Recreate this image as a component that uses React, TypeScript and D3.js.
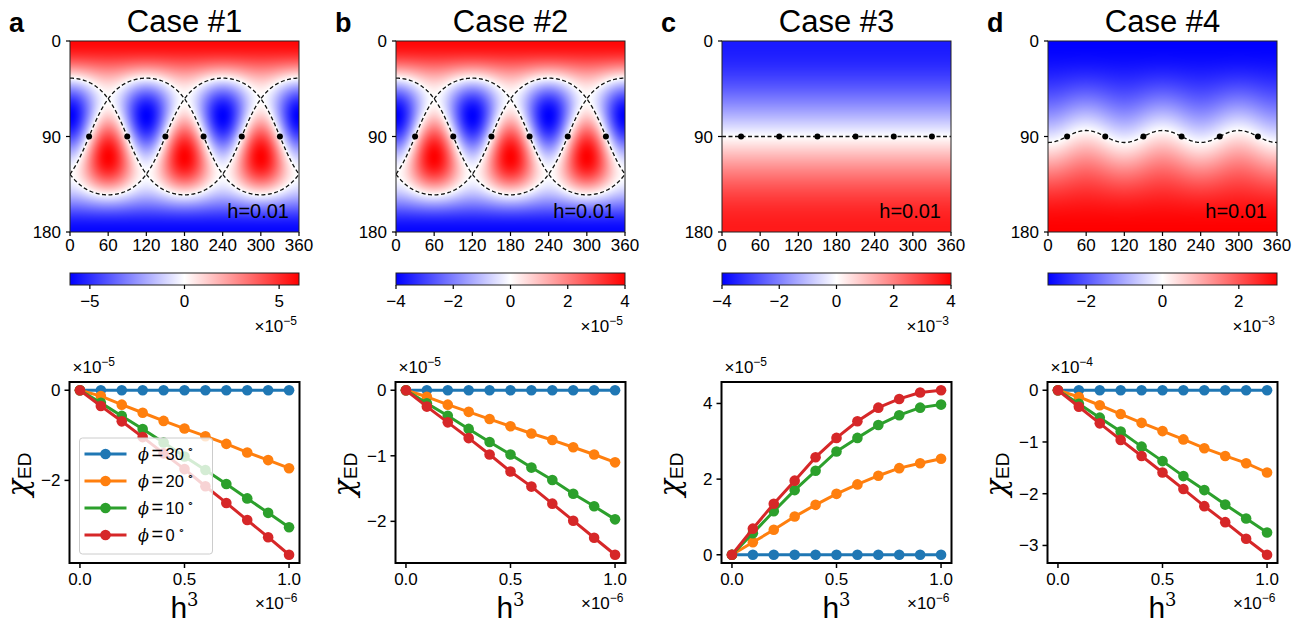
import React, { useMemo } from 'react';
import * as d3 from 'd3';

// ---------- data ----------
const CASE_TITLES = ['Case #1', 'Case #2', 'Case #3', 'Case #4'];
const PANEL_LETTERS = ['a', 'b', 'c', 'd'];
const PHI_TICKS = [0, 60, 120, 180, 240, 300, 360];
const THETA_TICKS = [0, 90, 180];
const CBAR_MAX = [6.05, 4, 4, 3];
const CBAR_TICKS = [[-5, 0, 5], [-4, -2, 0, 2, 4], [-4, -2, 0, 2, 4], [-2, 0, 2]];
const CBAR_EXP = ['−5', '−5', '−3', '−3'];
const FIELD_PEAK = [1, 1, 0.9, 1];
const FIELD_KIND = ['tripole', 'tripole', 'dipole', 'ripple'];
const TILT_DEG = 55;
const CIRCLE_PHI = [0, 120, 240];
const RIPPLE = 0.1;
const NODE_PHI = [30, 90, 150, 210, 270, 330];
const NODE_THETA = 90;
const H_LABEL = 'h=0.01';

const H3 = [0, 0.1, 0.2, 0.3, 0.4, 0.5, 0.6, 0.7, 0.8, 0.9, 1.0];
const H3_TICKS = [0, 0.5, 1.0];
const CHI_EXP = ['−5', '−5', '−5', '−4'];
const LEGEND_LABELS = ['30', '20', '10', '0'];
const SERIES_COLORS = ['#1f77b4', '#ff7f0e', '#2ca02c', '#d62728'];

const CHI_A_30 = [0, 0, 0, 0, 0, 0, 0, 0, 0, 0, 0];
const CHI_A_20 = [0, -0.13, -0.32, -0.5, -0.68, -0.85, -1.02, -1.19, -1.38, -1.55, -1.73];
const CHI_A_10 = [0, -0.28, -0.57, -0.86, -1.16, -1.47, -1.77, -2.08, -2.4, -2.72, -3.04];
const CHI_A_0 = [0, -0.35, -0.69, -1.04, -1.4, -1.75, -2.13, -2.5, -2.88, -3.26, -3.65];

const CHI_B_30 = [0, 0, 0, 0, 0, 0, 0, 0, 0, 0, 0];
const CHI_B_20 = [0, -0.1, -0.22, -0.33, -0.44, -0.55, -0.66, -0.76, -0.87, -0.98, -1.1];
const CHI_B_10 = [0, -0.2, -0.39, -0.59, -0.79, -0.98, -1.18, -1.37, -1.58, -1.77, -1.97];
const CHI_B_0 = [0, -0.25, -0.49, -0.73, -0.98, -1.24, -1.47, -1.73, -1.99, -2.25, -2.51];

const CHI_C_30 = [0, 0, 0, 0, 0, 0, 0, 0, 0, 0, 0];
const CHI_C_20 = [0, 0.33, 0.66, 1.01, 1.32, 1.61, 1.86, 2.09, 2.29, 2.42, 2.54];
const CHI_C_10 = [0, 0.57, 1.15, 1.71, 2.22, 2.73, 3.09, 3.43, 3.69, 3.89, 3.97];
const CHI_C_0 = [0, 0.69, 1.35, 1.96, 2.58, 3.09, 3.53, 3.89, 4.12, 4.29, 4.35];

const CHI_D_30 = [0, 0, 0, 0, 0, 0, 0, 0, 0, 0, 0];
const CHI_D_20 = [0, -0.13, -0.29, -0.46, -0.63, -0.79, -0.95, -1.12, -1.27, -1.41, -1.59];
const CHI_D_10 = [0, -0.26, -0.53, -0.8, -1.09, -1.37, -1.66, -1.93, -2.21, -2.48, -2.75];
const CHI_D_0 = [0, -0.32, -0.64, -0.96, -1.27, -1.59, -1.91, -2.24, -2.55, -2.87, -3.18];

const CHI_SERIES = [
  [CHI_A_30, CHI_A_20, CHI_A_10, CHI_A_0],
  [CHI_B_30, CHI_B_20, CHI_B_10, CHI_B_0],
  [CHI_C_30, CHI_C_20, CHI_C_10, CHI_C_0],
  [CHI_D_30, CHI_D_20, CHI_D_10, CHI_D_0],
];
const CHI_TICKS = [[0, -2], [0, -1, -2], [0, 2, 4], [0, -1, -2, -3]];

// ---------- layout ----------
const FIRST_LEFT = 70;
const PANEL_STEP = 326;
const HEAT_W = 229;
const HEAT_TOP = 41;
const HEAT_H = 191;
const CB_TOP = 273;
const CB_H = 12;
const AX_TOP = 382;
const AX_BOT = 563;
const AX_W = 230;
const SANS = '"Liberation Sans", Arial, Helvetica, sans-serif';
const SERIF = '"DejaVu Serif", "Liberation Serif", serif';
const TICK_FS = 17;

const rad = (d: number) => (d * Math.PI) / 180;

function fieldValue(kind: string, phi: number, theta: number): number {
  const p = rad(phi);
  const t = rad(theta);
  if (kind === 'tripole') {
    const b = rad(TILT_DEG);
    let f = 1;
    for (const pk of CIRCLE_PHI) {
      f *= Math.cos(b) * Math.cos(t) - Math.sin(b) * Math.sin(t) * Math.cos(p - rad(pk));
    }
    return f;
  }
  if (kind === 'dipole') return -Math.cos(t);
  return -Math.cos(t) - RIPPLE * Math.pow(Math.sin(t), 3) * Math.cos(3 * p);
}

function zeroCurves(kind: string): [number, number][][] {
  const phis = d3.range(0, 360.5, 1);
  if (kind === 'tripole') {
    const tb = Math.tan(rad(TILT_DEG));
    return CIRCLE_PHI.map((pk) =>
      phis.map((ph) => [ph, (Math.atan2(1, tb * Math.cos(rad(ph - pk))) * 180) / Math.PI] as [number, number])
    );
  }
  if (kind === 'dipole') return [[[0, 90], [360, 90]]];
  return [
    phis.map((ph) => {
      let lo = 60;
      let hi = 120;
      for (let i = 0; i < 40; i++) {
        const mid = (lo + hi) / 2;
        if (fieldValue(kind, ph, mid) < 0) lo = mid;
        else hi = mid;
      }
      return [ph, (lo + hi) / 2] as [number, number];
    }),
  ];
}

function bwr(v: number): [number, number, number] {
  const t = Math.max(0, Math.min(1, (v + 1) / 2));
  if (t < 0.5) {
    const c = Math.round(255 * 2 * t);
    return [c, c, 255];
  }
  const c = Math.round(255 * 2 * (1 - t));
  return [255, c, c];
}

function heatImage(i: number): string {
  const kind = FIELD_KIND[i];
  const w = HEAT_W;
  const h = HEAT_H;
  const vals: number[] = new Array(w * h);
  let maxAbs = 0;
  for (let y = 0; y < h; y++) {
    for (let x = 0; x < w; x++) {
      const v = fieldValue(kind, ((x + 0.5) / w) * 360, ((y + 0.5) / h) * 180);
      vals[y * w + x] = v;
      if (Math.abs(v) > maxAbs) maxAbs = Math.abs(v);
    }
  }
  const canvas = document.createElement('canvas');
  canvas.width = w;
  canvas.height = h;
  const ctx = canvas.getContext('2d')!;
  const img = ctx.createImageData(w, h);
  for (let k = 0; k < w * h; k++) {
    const [r, g, b] = bwr((vals[k] / maxAbs) * FIELD_PEAK[i]);
    img.data[4 * k] = r;
    img.data[4 * k + 1] = g;
    img.data[4 * k + 2] = b;
    img.data[4 * k + 3] = 255;
  }
  ctx.putImageData(img, 0, 0);
  return canvas.toDataURL();
}

function TopPanel({ i }: { i: number }) {
  const left = FIRST_LEFT + i * PANEL_STEP;
  const x = d3.scaleLinear().domain([0, 360]).range([left, left + HEAT_W]);
  const y = d3.scaleLinear().domain([0, 180]).range([HEAT_TOP, HEAT_TOP + HEAT_H]);
  const href = useMemo(() => heatImage(i), [i]);
  const curves = useMemo(() => zeroCurves(FIELD_KIND[i]), [i]);
  const line = d3
    .line<[number, number]>()
    .x((d) => x(d[0]))
    .y((d) => y(d[1]));
  const cb = d3.scaleLinear().domain([-CBAR_MAX[i], CBAR_MAX[i]]).range([left, left + HEAT_W]);
  const clipId = `clip-heat-${i}`;
  const gradId = `grad-cb-${i}`;
  return (
    <g>
      <text x={left - 61} y={32} fontFamily={SANS} fontWeight="bold" fontSize={27}>
        {PANEL_LETTERS[i]}
      </text>
      <text x={left + HEAT_W / 2} y={32} textAnchor="middle" fontFamily={SANS} fontSize={31}>
        {CASE_TITLES[i]}
      </text>
      <defs>
        <clipPath id={clipId}>
          <rect x={left} y={HEAT_TOP} width={HEAT_W} height={HEAT_H} />
        </clipPath>
        <linearGradient id={gradId} x1="0" x2="1" y1="0" y2="0">
          <stop offset="0" stopColor="#0000ff" />
          <stop offset="0.5" stopColor="#ffffff" />
          <stop offset="1" stopColor="#ff0000" />
        </linearGradient>
      </defs>
      <image href={href} x={left} y={HEAT_TOP} width={HEAT_W} height={HEAT_H} preserveAspectRatio="none" />
      <g clipPath={`url(#${clipId})`}>
        {curves.map((c, k) => (
          <path key={k} d={line(c) || ''} fill="none" stroke="#111" strokeWidth={1.3} strokeDasharray="4,2.5" />
        ))}
      </g>
      {NODE_PHI.map((p) => (
        <circle key={p} cx={x(p)} cy={y(NODE_THETA)} r={3} fill="#000" />
      ))}
      <text x={left + HEAT_W - 10} y={HEAT_TOP + HEAT_H - 14} textAnchor="end" fontFamily={SANS} fontSize={20}>
        {H_LABEL}
      </text>
      <rect x={left} y={HEAT_TOP} width={HEAT_W} height={HEAT_H} fill="none" stroke="#222" strokeWidth={1} />
      {THETA_TICKS.map((t) => (
        <g key={t}>
          <line x1={left - 4} x2={left} y1={y(t)} y2={y(t)} stroke="#000" strokeWidth={1.2} />
          <text x={left - 9} y={y(t) + 6} textAnchor="end" fontFamily={SANS} fontSize={TICK_FS}>
            {t}
          </text>
        </g>
      ))}
      {PHI_TICKS.map((p) => (
        <g key={p}>
          <line x1={x(p)} x2={x(p)} y1={HEAT_TOP + HEAT_H} y2={HEAT_TOP + HEAT_H + 4} stroke="#000" strokeWidth={1.2} />
          <text x={x(p)} y={251} textAnchor="middle" fontFamily={SANS} fontSize={TICK_FS}>
            {p}
          </text>
        </g>
      ))}
      <rect x={left} y={CB_TOP} width={HEAT_W} height={CB_H} fill={`url(#${gradId})`} stroke="#222" strokeWidth={1} />
      {CBAR_TICKS[i].map((t) => (
        <g key={t}>
          <line x1={cb(t)} x2={cb(t)} y1={CB_TOP + CB_H} y2={CB_TOP + CB_H + 4} stroke="#000" strokeWidth={1.2} />
          <text x={cb(t)} y={307} textAnchor="middle" fontFamily={SANS} fontSize={TICK_FS}>
            {t < 0 ? `−${Math.abs(t)}` : `${t}`}
          </text>
        </g>
      ))}
      <text x={left + HEAT_W - 2} y={332} textAnchor="end" fontFamily={SANS} fontSize={TICK_FS}>
        ×10
        <tspan dy={-7} fontSize={12}>
          {CBAR_EXP[i]}
        </tspan>
      </text>
    </g>
  );
}

function BottomPanel({ i }: { i: number }) {
  const left = FIRST_LEFT - 0.5 + i * PANEL_STEP;
  const right = left + AX_W;
  const x = d3.scaleLinear().domain([-0.05, 1.05]).range([left, right]);
  const all = CHI_SERIES[i].flat();
  const [mn, mx] = d3.extent(all) as [number, number];
  const pad = 0.05 * (mx - mn);
  const y = d3.scaleLinear().domain([mn - pad, mx + pad]).range([AX_BOT, AX_TOP]);
  const line = d3
    .line<number>()
    .x((_, k) => x(H3[k]))
    .y((d) => y(d));
  const cy = (AX_TOP + AX_BOT) / 2;
  return (
    <g>
      {CHI_SERIES[i].map((s, si) => (
        <g key={si}>
          <path d={line(s) || ''} fill="none" stroke={SERIES_COLORS[si]} strokeWidth={3} strokeLinejoin="round" />
          {s.map((v, k) => (
            <circle key={k} cx={x(H3[k])} cy={y(v)} r={5.3} fill={SERIES_COLORS[si]} />
          ))}
        </g>
      ))}
      {i === 0 && (
        <g>
          <rect
            x={left + 10}
            y={438}
            width={133}
            height={116}
            rx={3}
            fill="#fff"
            fillOpacity={0.8}
            stroke="#cccccc"
            strokeWidth={1}
          />
          {LEGEND_LABELS.map((lab, k) => {
            const ly = 454 + k * 27;
            return (
              <g key={lab}>
                <line x1={left + 15} x2={left + 57} y1={ly} y2={ly} stroke={SERIES_COLORS[k]} strokeWidth={3} />
                <circle cx={left + 36} cy={ly} r={5.3} fill={SERIES_COLORS[k]} />
                <text x={left + 68.5} y={ly + 6} fontFamily={SERIF} fontStyle="italic" fontSize={16}>
                  ϕ
                </text>
                <text x={left + 82} y={ly + 6} fontFamily={SANS} fontSize={20}>
                  =
                </text>
                <text x={left + 96} y={ly + 6} fontFamily={SANS} fontSize={16.5}>
                  {lab}
                  <tspan dx={3} dy={-7} fontSize={11}>
                    ∘
                  </tspan>
                </text>
              </g>
            );
          })}
        </g>
      )}
      <rect x={left} y={AX_TOP} width={AX_W} height={AX_BOT - AX_TOP} fill="none" stroke="#000" strokeWidth={2} />
      {CHI_TICKS[i].map((t) => (
        <g key={t}>
          <line x1={left - 5} x2={left} y1={y(t)} y2={y(t)} stroke="#000" strokeWidth={1.5} />
          <text x={left - 9} y={y(t) + 6} textAnchor="end" fontFamily={SANS} fontSize={TICK_FS}>
            {t < 0 ? `−${Math.abs(t)}` : `${t}`}
          </text>
        </g>
      ))}
      {H3_TICKS.map((t) => (
        <g key={t}>
          <line x1={x(t)} x2={x(t)} y1={AX_BOT} y2={AX_BOT + 5} stroke="#000" strokeWidth={1.5} />
          <text x={x(t)} y={585} textAnchor="middle" fontFamily={SANS} fontSize={TICK_FS}>
            {t.toFixed(1)}
          </text>
        </g>
      ))}
      <text x={left + 3} y={373} fontFamily={SANS} fontSize={TICK_FS}>
        ×10
        <tspan dy={-7} fontSize={12}>
          {CHI_EXP[i]}
        </tspan>
      </text>
      <text x={right - 2} y={609} textAnchor="end" fontFamily={SANS} fontSize={TICK_FS}>
        ×10
        <tspan dy={-7} fontSize={12}>
          −6
        </tspan>
      </text>
      <text x={(left + right) / 2} y={618} textAnchor="middle" fontFamily={SANS} fontSize={30}>
        h
        <tspan dy={-12} fontFamily={SERIF} fontSize={18}>
          3
        </tspan>
      </text>
      <text transform={`translate(${left - 42},${cy + 2}) rotate(-90)`} textAnchor="middle">
        <tspan fontFamily={SERIF} fontStyle="italic" fontSize={29}>
          χ
        </tspan>
        <tspan dy={3} fontFamily={SANS} fontSize={19}>
          ED
        </tspan>
      </text>
    </g>
  );
}

export default function App() {
  return (
    <svg
      width={1301}
      height={625}
      viewBox="0 0 1301 625"
      style={{ position: 'absolute', left: 0, top: 0, background: '#fff' }}
    >
      <rect x={0} y={0} width={1301} height={625} fill="#fff" />
      {[0, 1, 2, 3].map((i) => (
        <TopPanel key={`t${i}`} i={i} />
      ))}
      {[0, 1, 2, 3].map((i) => (
        <BottomPanel key={`b${i}`} i={i} />
      ))}
    </svg>
  );
}
